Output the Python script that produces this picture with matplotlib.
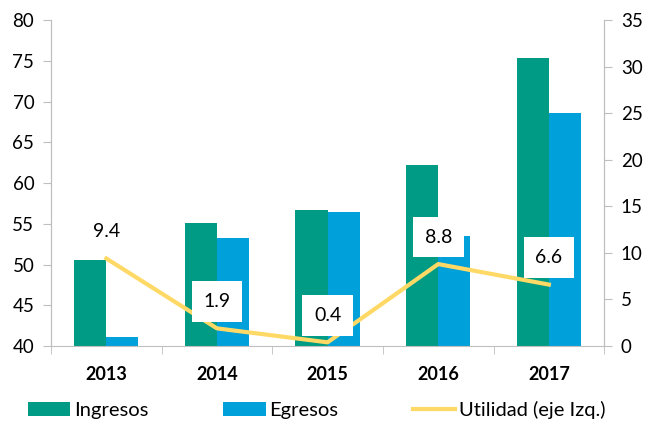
import numpy as np
from matplotlib import pyplot as plt

plt.rcParams["font.family"] = ["Lato", "DejaVu Sans"]

# ===datos
years = ["2013", "2014", "2015", "2016", "2017"]
ingresos = [50.6, 55.1, 56.7, 62.2, 75.3]
egresos = [41.1, 53.2, 56.4, 53.5, 68.6]
utilidad = [9.4, 1.9, 0.4, 8.8, 6.6]

c_ing = "#009B84"
c_egr = "#00A0DA"
c_uti = "#FFD966"
c_axis = "#BFBFBF"

fig = plt.figure(figsize=(6.47, 4.21), dpi=100)
ax = fig.add_axes([0.0788, 0.178, 0.855, 0.7745])
ax2 = ax.twinx()

x = np.arange(len(years))
w = 0.29
ax.bar(x, ingresos, width=-w, align="edge", color=c_ing, label="Ingresos", zorder=2)
ax.bar(x, egresos, width=w, align="edge", color=c_egr, label="Egresos", zorder=2)
ax.set_ylim(40, 80)
ax.set_xlim(-0.5, len(years) - 0.5)
ax.set_yticks(range(40, 81, 5))

ax2.plot(x, utilidad, color=c_uti, lw=3, label="Utilidad (eje Izq.)", zorder=3)
ax2.set_ylim(0, 35)
ax2.set_yticks(range(0, 36, 5))
for i, v in zip(x, utilidad):
    ax2.annotate(
        f"{v}", (i, v), xytext=(0, 27), textcoords="offset pixels",
        ha="center", va="center", fontsize=14, zorder=5,
        bbox=dict(boxstyle="square,pad=0.6", fc="white", ec="none"),
    )

ax.set_xticks(x)
ax.set_xticklabels(years, fontsize=13, fontweight="bold")
ax.set_xticks(np.arange(-0.5, len(years), 1), minor=True)
ax.tick_params(axis="x", which="major", length=0, pad=14)
ax.tick_params(axis="x", which="minor", length=6, color=c_axis)
ax.tick_params(axis="y", length=6, color=c_axis, labelsize=13.5, pad=6)
ax2.tick_params(axis="y", length=6, color=c_axis, labelsize=13.5, pad=6)

for a in (ax, ax2):
    a.spines["top"].set_visible(False)
    for s in ("left", "right", "bottom"):
        a.spines[s].set_color(c_axis)
ax2.spines["bottom"].set_visible(False)

h1, l1 = ax.get_legend_handles_labels()
h2, l2 = ax2.get_legend_handles_labels()
fig.legend(
    h1 + h2, l1 + l2, loc="center left", bbox_to_anchor=(0.0433, 0.026),
    ncol=3, frameon=False, fontsize=14.5, handlelength=2.1, handleheight=0.65,
    handletextpad=0.2, columnspacing=3.7, borderpad=0, borderaxespad=0,
)

fig.savefig("out.png", dpi=100)
